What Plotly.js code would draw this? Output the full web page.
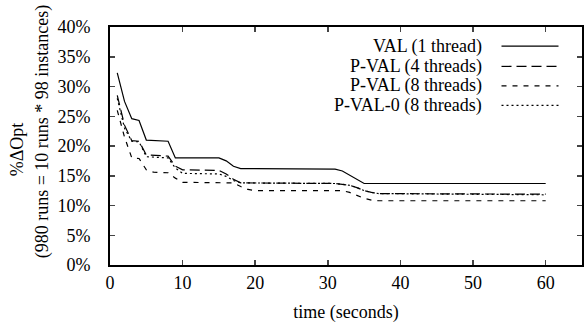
<!DOCTYPE html>
<html>
<head>
<meta charset="utf-8">
<script src="https://cdn.plot.ly/plotly-3.0.1.min.js"></script>
<style>html,body{margin:0;padding:0;background:#fff;}#chart{width:587px;height:333px;}</style>
</head>
<body>
<div id="chart"></div>
<script>
// Series: VAL (1 thread)
const tVal = [1, 2, 3, 4, 5, 8, 9, 15, 16, 17, 18, 31, 32, 33, 34, 35, 60];
const vVal = [32.3, 27.5, 24.6, 24.3, 21.0, 20.8, 18.0, 18.0, 17.5, 16.6, 16.2, 16.1, 15.8, 15.1, 14.3, 13.7, 13.7];
// Series: P-VAL (4 threads)
const tP4 = [1, 2, 3, 4, 5, 8, 9, 10, 15, 16, 17, 18, 31, 33, 34, 35, 36, 37, 60];
const vP4 = [28.5, 23.5, 20.9, 20.8, 18.5, 18.3, 16.6, 16.0, 15.9, 15.3, 14.4, 13.8, 13.7, 13.4, 13.0, 12.5, 12.2, 12.0, 11.9];
// Series: P-VAL (8 threads)
const tP8 = [1, 2, 3, 4, 5, 6, 8, 9, 10, 17, 18, 19, 20, 32, 33, 34, 35, 36, 37, 60];
const vP8 = [26.0, 21.5, 18.0, 17.9, 16.0, 15.6, 15.5, 14.6, 13.9, 13.8, 13.2, 12.7, 12.5, 12.5, 12.2, 11.7, 11.2, 10.9, 10.8, 10.8];
// Series: P-VAL-0 (8 threads)
const tP0 = [1, 2, 3, 4, 5, 8, 9, 10, 15, 16, 17, 18, 31, 33, 34, 35, 36, 37, 60];
const vP0 = [28.0, 23.0, 20.8, 20.7, 18.2, 18.0, 16.3, 15.4, 15.3, 14.9, 14.2, 13.8, 13.7, 13.4, 13.0, 12.5, 12.2, 12.0, 11.8];

const seriesNames = ["VAL (1 thread)", "P-VAL (4 threads)", "P-VAL (8 threads)", "P-VAL-0 (8 threads)"];
const dashes = ["solid", "10px,5px", "5px,6px", "2px,3px"];
const xTickVals = [0, 10, 20, 30, 40, 50, 60];
const yTickVals = [0, 5, 10, 15, 20, 25, 30, 35, 40];
const yTickText = ["0%", "5%", "10%", "15%", "20%", "25%", "30%", "35%", "40%"];

const FONT = "Liberation Serif";
const FS = 18;
const xs = [tVal, tP4, tP8, tP0];
const ys = [vVal, vP4, vP8, vP0];

const traces = xs.map((x, i) => ({
  x: x, y: ys[i], type: "scatter", mode: "lines", name: seriesNames[i],
  line: {color: "#000", width: 1.2, dash: dashes[i]}, showlegend: false, hoverinfo: "skip"
}));

// Manual legend (text right-aligned, sample line to the right)
const legRowY = [45.7, 66, 85.5, 105];
const H = 333, W = 587;
const PX0 = 110, PX1 = 582, PY0 = 26.5, PY1 = 265;
const px = v => (v - PX0) / (PX1 - PX0);
const py = v => (PY1 - v) / (PY1 - PY0);
const annotations = [];
const shapes = [];
seriesNames.forEach((n, i) => {
  annotations.push({
    text: n, xref: "paper", yref: "paper", showarrow: false,
    x: px(484), y: py(legRowY[i]),
    xanchor: "right", yanchor: "middle", font: {family: FONT, size: FS, color: "#000"}
  });
  shapes.push({
    type: "line", xref: "paper", yref: "paper",
    x0: px(501.5), x1: px(558.5), y0: py(legRowY[i]), y1: py(legRowY[i]),
    line: {color: "#000", width: 1.2, dash: dashes[i]}
  });
});
// Y title as two rotated lines
annotations.push({
  text: "%ΔOpt", xref: "paper", yref: "paper", showarrow: false, textangle: -90,
  x: px(17), y: py(149), xanchor: "center", yanchor: "middle",
  font: {family: FONT, size: FS, color: "#000"}
});
annotations.push({
  text: "(980 runs = 10 runs * 98 instances)", xref: "paper", yref: "paper", showarrow: false, textangle: -90,
  x: px(42), y: py(131), xanchor: "center", yanchor: "middle",
  font: {family: FONT, size: FS, color: "#000"}
});

const layout = {
  width: W, height: H,
  margin: {l: PX0, r: W - PX1, t: PY0, b: H - PY1, pad: 0},
  paper_bgcolor: "#fff", plot_bgcolor: "#fff",
  font: {family: FONT, size: FS, color: "#000"},
  xaxis: {
    range: [0, 65], tickvals: xTickVals, ticks: "inside", ticklen: 5, tickwidth: 1.5,
    showline: true, linewidth: 2, linecolor: "#000", mirror: "ticks", showgrid: false, zeroline: false,
    tickfont: {family: FONT, size: FS, color: "#000"}, ticklabelstandoff: 0,
    title: {text: "time (seconds)", font: {family: FONT, size: FS, color: "#000"}, standoff: 14}
  },
  yaxis: {
    range: [0, 40], tickvals: yTickVals, ticktext: yTickText, ticks: "inside", ticklen: 5, tickwidth: 1.5,
    showline: true, linewidth: 2, linecolor: "#000", mirror: "ticks", showgrid: false, zeroline: false,
    tickfont: {family: FONT, size: FS, color: "#000"}, ticklabelstandoff: 14
  },
  annotations: annotations,
  shapes: shapes,
  showlegend: false
};

Plotly.newPlot("chart", traces, layout, {staticPlot: true, displayModeBar: false});
</script>
</body>
</html>
